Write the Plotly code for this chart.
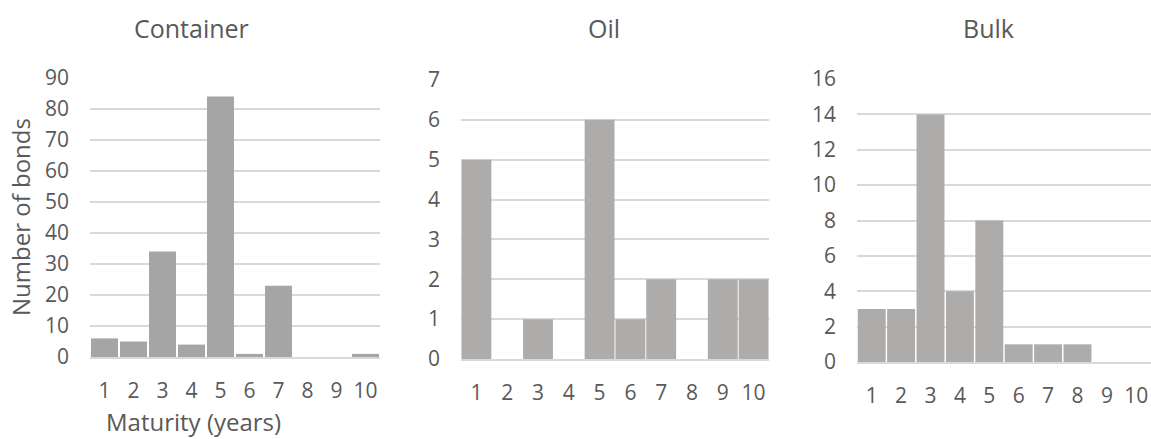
import plotly.graph_objects as go

maturity = [1, 2, 3, 4, 5, 6, 7, 8, 9, 10]
container = [6, 5, 34, 4, 84, 1, 23, 0, 0, 1]
oil = [5, 0, 1, 0, 6, 1, 2, 0, 2, 2]
bulk = [3, 3, 14, 4, 8, 1, 1, 1, 0, 0]

W, H = 1151, 439
FONT = "Open Sans"
TXT = "#595959"
GRID = "#d9d9d9"

panels = [
    # name, values, colour, x px span, y px (zero, top), y max, dtick, bar width, title centre x
    ("Container", container, "#a5a5a5", (90, 380), (357, 78), 90, 10, 0.93, 191),
    ("Oil", oil, "#aeabab", (461, 769), (359, 80), 7, 1, 0.97, 604),
    ("Bulk", bulk, "#aeabab", (857, 1151), (362, 79), 16, 2, 0.95, 988),
]

fig = go.Figure()
for i, (name, vals, col, (x0, x1), (yb, yt), ymax, dt, bw, tx) in enumerate(panels, start=1):
    xa = "x" if i == 1 else f"x{i}"
    ya = "y" if i == 1 else f"y{i}"
    fig.add_trace(go.Bar(x=maturity, y=vals, marker=dict(color=col, line=dict(width=0)),
                         width=bw, xaxis=xa, yaxis=ya, showlegend=False, hoverinfo="x+y"))
    xkey = "xaxis" if i == 1 else f"xaxis{i}"
    ykey = "yaxis" if i == 1 else f"yaxis{i}"
    fig.update_layout({
        xkey: dict(domain=[x0 / W, x1 / W], anchor=ya, range=[0.5, 10.5],
                   tickvals=maturity, ticktext=[str(m) for m in maturity],
                   showgrid=False, zeroline=False, showline=True, linecolor=GRID,
                   linewidth=1.5, ticks="", ticklabelstandoff=14, automargin=False,
                   tickfont=dict(family=FONT, size=21, color=TXT)),
        ykey: dict(domain=[1 - yb / H, 1 - yt / H], anchor=xa, range=[0, ymax],
                   dtick=dt, tick0=0, showgrid=True, gridcolor=GRID, gridwidth=1.5,
                   zeroline=False, showline=False, ticks="", ticklabelstandoff=20,
                   automargin=False,
                   tickfont=dict(family=FONT, size=21, color=TXT)),
    })
    fig.add_annotation(x=tx / W, y=1 - 28 / H, xref="paper", yref="paper", text=name,
                       showarrow=False, xanchor="center", yanchor="middle",
                       font=dict(family=FONT, size=25, color=TXT))

fig.add_annotation(x=20 / W, y=1 - 217 / H, xref="paper", yref="paper",
                   text="Number of bonds", textangle=-90, showarrow=False,
                   xanchor="center", yanchor="middle",
                   font=dict(family=FONT, size=24, color=TXT))
fig.add_annotation(x=193 / W, y=1 - 421 / H, xref="paper", yref="paper",
                   text="Maturity (years)", showarrow=False,
                   xanchor="center", yanchor="middle",
                   font=dict(family=FONT, size=24, color=TXT))

fig.update_layout(template="none", width=W, height=H,
                  margin=dict(l=0, r=0, t=0, b=0, pad=0),
                  paper_bgcolor="white", plot_bgcolor="white", bargap=0.05)

fig.write_html("out.html")
